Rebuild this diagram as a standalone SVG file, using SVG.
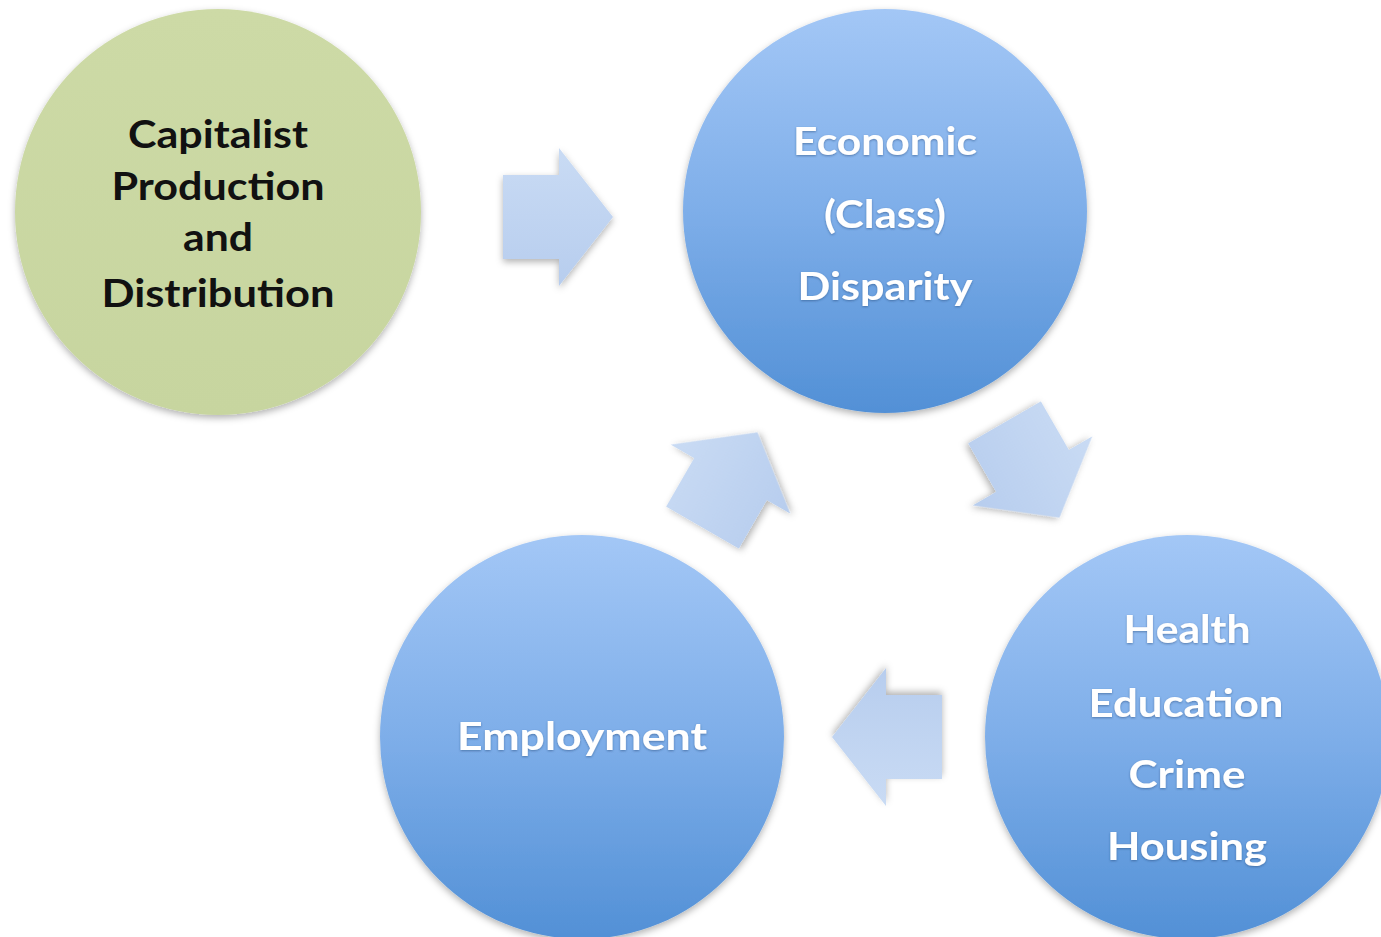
<svg xmlns="http://www.w3.org/2000/svg" width="1381" height="937" viewBox="0 0 1381 937">
<defs>
<linearGradient id="blueGrad" x1="0" y1="0" x2="0" y2="1">
<stop offset="0" stop-color="#a3c7f6"/>
<stop offset="0.5" stop-color="#7eaee9"/>
<stop offset="1" stop-color="#5290d6"/>
</linearGradient>
<linearGradient id="greenGrad" x1="0" y1="0" x2="0" y2="1">
<stop offset="0" stop-color="#cddaa6"/>
<stop offset="1" stop-color="#c7d59f"/>
</linearGradient>
<linearGradient id="arrowGrad" x1="0" y1="0" x2="0" y2="1">
<stop offset="0" stop-color="#c9dbf4"/>
<stop offset="1" stop-color="#b7cdee"/>
</linearGradient>
<filter id="shadow" x="-20%" y="-20%" width="140%" height="140%">
<feDropShadow dx="0" dy="3" stdDeviation="3.5" flood-color="#000" flood-opacity="0.3"/>
</filter>
<filter id="tshadow" x="-10%" y="-30%" width="120%" height="160%">
<feDropShadow dx="0" dy="1" stdDeviation="1" flood-color="#1a3f70" flood-opacity="0.5"/>
</filter>
<path id="arrowShape" d="M -55,-42 L 1,-42 L 1,-69 L 55,0 L 1,69 L 1,42 L -55,42 Z"/>
</defs>
<style>
.blue { fill: url(#blueGrad); filter: url(#shadow); }
.green { fill: url(#greenGrad); filter: url(#shadow); }
.arrow { fill: url(#arrowGrad); filter: url(#shadow); }
.lbl { font-family: Lato, "Open Sans", sans-serif; font-size: 39px; font-weight: bold; text-anchor: middle; }
.dark { fill: #111; }
.light { fill: #fff; filter: url(#tshadow); }
</style>
<rect width="1381" height="937" fill="#fff"/>
<g id="connectors">
<use href="#arrowShape" class="arrow" transform="translate(558,217)"/>
<use href="#arrowShape" class="arrow" transform="translate(1032,470) rotate(60)"/>
<use href="#arrowShape" class="arrow" transform="translate(887,737) rotate(180)"/>
<use href="#arrowShape" class="arrow" transform="translate(730,480) rotate(-60)"/>
</g>
<g id="node-capitalist">
<circle class="green" cx="218" cy="212" r="203"/>
<text class="lbl dark" lengthAdjust="spacingAndGlyphs"><tspan x="218" y="148" textLength="180" lengthAdjust="spacingAndGlyphs">Capitalist</tspan><tspan x="218" y="200" textLength="213" lengthAdjust="spacingAndGlyphs">Production</tspan><tspan x="218" y="251" textLength="70" lengthAdjust="spacingAndGlyphs">and</tspan><tspan x="218" y="307" textLength="233" lengthAdjust="spacingAndGlyphs">Distribution</tspan></text>
</g>
<g id="node-economic">
<circle class="blue" cx="885" cy="211" r="202"/>
<text class="lbl light"><tspan x="885" y="155" textLength="184" lengthAdjust="spacingAndGlyphs">Economic</tspan><tspan x="885" y="228" textLength="122" lengthAdjust="spacingAndGlyphs">(Class)</tspan><tspan x="885" y="300" textLength="175" lengthAdjust="spacingAndGlyphs">Disparity</tspan></text>
</g>
<g id="node-health">
<circle class="blue" cx="1187" cy="737" r="202"/>
<text class="lbl light"><tspan x="1187" y="643" textLength="127" lengthAdjust="spacingAndGlyphs">Health</tspan><tspan x="1186" y="717" textLength="195" lengthAdjust="spacingAndGlyphs">Education</tspan><tspan x="1187" y="788" textLength="117" lengthAdjust="spacingAndGlyphs">Crime</tspan><tspan x="1187" y="860" textLength="160" lengthAdjust="spacingAndGlyphs">Housing</tspan></text>
</g>
<g id="node-employment">
<circle class="blue" cx="582" cy="737" r="202"/>
<text class="lbl light"><tspan x="582" y="750" textLength="250" lengthAdjust="spacingAndGlyphs">Employment</tspan></text>
</g>
</svg>
